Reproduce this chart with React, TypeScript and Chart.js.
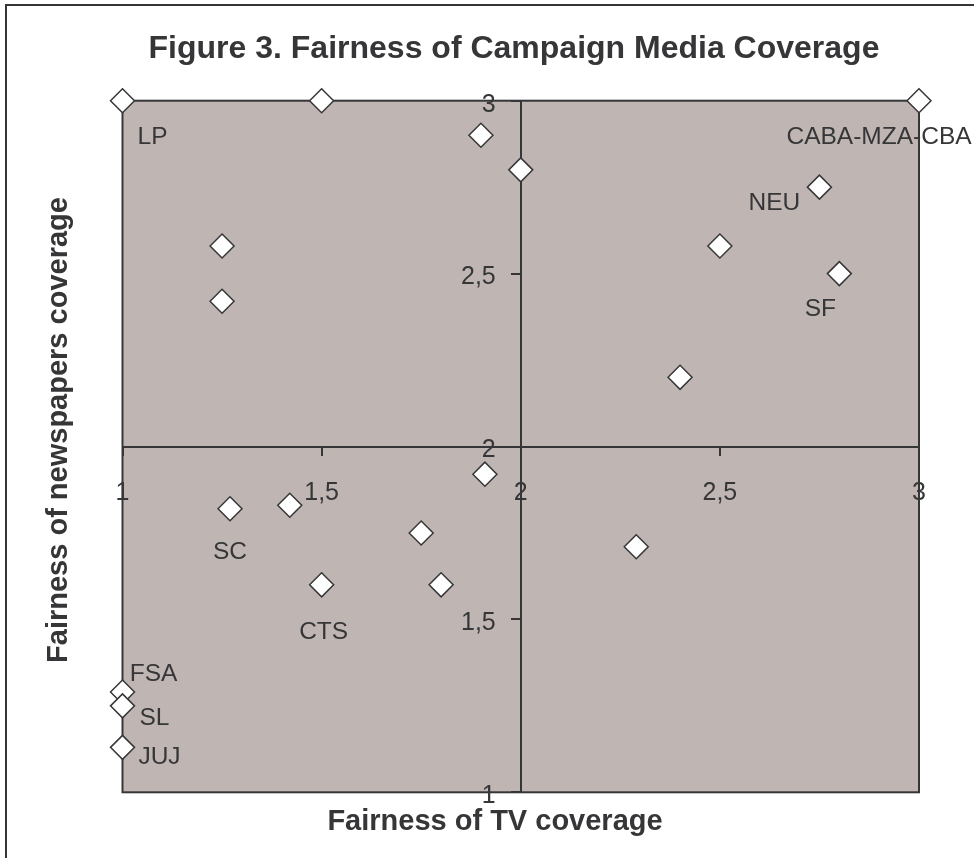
import React, { useEffect, useRef } from "react";
import { Chart, registerables } from "chart.js";

Chart.register(...registerables);

// ---- data ----
const tvCoverage = [1, 1.5, 1.9, 2.0, 1.25, 1.25, 3, 2.75, 2.5, 2.8, 2.4, 1.91, 1.27, 1.42, 1.75, 1.5, 1.8, 2.29, 1, 1, 1];
const newspaperCoverage = [3, 3, 2.9, 2.8, 2.58, 2.42, 3, 2.75, 2.58, 2.5, 2.2, 1.92, 1.82, 1.83, 1.75, 1.6, 1.6, 1.71, 1.29, 1.25, 1.13];
const pointLabels = ["LP", "", "", "", "", "", "CABA-MZA-CBA", "NEU", "", "SF", "", "", "SC", "", "", "CTS", "", "", "FSA", "SL", "JUJ"];
const xTickValues = [1, 1.5, 2, 2.5, 3];
const yTickValues = [1, 1.5, 2, 2.5, 3];
const chartTitle = "Figure 3. Fairness of Campaign Media Coverage";
const xAxisTitle = "Fairness of TV coverage";
const yAxisTitle = "Fairness of newspapers coverage";

// label placement relative to its point (px)
const labelOffsets: Record<string, [number, number]> = {
  LP: [30, 37],
  "CABA-MZA-CBA": [-40, 37],
  NEU: [-45, 16],
  SF: [-19, 36],
  SC: [0, 44],
  CTS: [2, 47],
  FSA: [31, -18],
  SL: [32, 12],
  JUJ: [37, 10],
};

const FONT = "'Liberation Sans', Arial, Helvetica, sans-serif";
const INK = "#363638";
const PLOT_BG = "#BFB6B3";

const fmt = (v: number) => String(v).replace(".", ",");

const decorPlugin = {
  id: "decor",
  beforeDraw(chart: any) {
    const { ctx, chartArea: a } = chart;
    ctx.save();
    ctx.fillStyle = "#ffffff";
    ctx.fillRect(0, 0, chart.width, chart.height);
    ctx.fillStyle = PLOT_BG;
    ctx.fillRect(a.left, a.top, a.right - a.left, a.bottom - a.top);
    // outer figure frame
    ctx.strokeStyle = INK;
    ctx.lineWidth = 2;
    ctx.strokeRect(6, 5, chart.width + 50, chart.height + 50);
    ctx.restore();
  },
  beforeDatasetsDraw(chart: any) {
    const { ctx, chartArea: a } = chart;
    ctx.save();
    ctx.strokeStyle = INK;
    ctx.lineWidth = 2;
    ctx.strokeRect(a.left, a.top, a.right - a.left, a.bottom - a.top);
    ctx.restore();
  },
  afterDatasetsDraw(chart: any) {
    const { ctx } = chart;
    const xs = chart.scales.x;
    const ys = chart.scales.y;
    ctx.save();
    ctx.fillStyle = INK;
    ctx.font = `24.5px ${FONT}`;
    ctx.textAlign = "center";
    ctx.textBaseline = "middle";
    pointLabels.forEach((lab, i) => {
      if (!lab) return;
      const off = labelOffsets[lab] || [0, 0];
      const px = xs.getPixelForValue(tvCoverage[i]);
      const py = ys.getPixelForValue(newspaperCoverage[i]);
      ctx.fillText(lab, px + off[0], py + off[1]);
    });
    ctx.restore();
  },
  afterDraw(chart: any) {
    const { ctx } = chart;
    ctx.save();
    ctx.fillStyle = INK;
    ctx.textAlign = "center";
    ctx.textBaseline = "middle";
    ctx.font = `bold 32px ${FONT}`;
    ctx.fillText(chartTitle, 514, 49);
    ctx.font = `bold 29px ${FONT}`;
    ctx.fillText(xAxisTitle, 495, 822);
    ctx.translate(59, 430);
    ctx.rotate(-Math.PI / 2);
    ctx.fillText(yAxisTitle, 0, 0);
    ctx.restore();
  },
};

export default function App() {
  const ref = useRef<HTMLCanvasElement | null>(null);

  useEffect(() => {
    document.body.style.margin = "0";
    const canvas = ref.current;
    if (!canvas) return;
    const data = tvCoverage.map((x, i) => ({ x, y: newspaperCoverage[i] }));
    const chart = new Chart(canvas, {
      type: "scatter",
      data: {
        datasets: [
          {
            label: "Provinces",
            data,
            pointStyle: "rectRot",
            pointRadius: 12,
            pointHoverRadius: 12,
            pointBackgroundColor: "#ffffff",
            pointBorderColor: INK,
            pointBorderWidth: 1.5,
            clip: false,
          } as any,
        ],
      },
      options: {
        responsive: false,
        animation: false,
        devicePixelRatio: 1,
        layout: { padding: { left: 122.5, right: 55, top: 100.7, bottom: 65.7 } },
        plugins: {
          legend: { display: false },
          title: { display: false },
          tooltip: { enabled: false },
        },
        scales: {
          x: {
            type: "linear",
            min: 1,
            max: 3,
            position: { y: 2 } as any,
            afterBuildTicks: (s: any) => {
              s.ticks = xTickValues.map((v) => ({ value: v }));
            },
            ticks: {
              callback: (v: any) => fmt(Number(v)),
              color: INK,
              font: { family: FONT, size: 25 },
              padding: 24,
              maxRotation: 0,
              autoSkip: false,
            },
            grid: { drawOnChartArea: false, drawTicks: true, tickLength: 8, color: INK, lineWidth: 2 },
            border: { display: true, color: INK, width: 2 },
          },
          y: {
            type: "linear",
            min: 1,
            max: 3,
            position: { x: 2 } as any,
            afterBuildTicks: (s: any) => {
              s.ticks = yTickValues.map((v) => ({ value: v }));
            },
            ticks: {
              callback: (v: any) => fmt(Number(v)) + "\u2002\u2002",
              color: INK,
              font: { family: FONT, size: 25 },
              padding: 15,
              labelOffset: 4,
              autoSkip: false,
            },
            grid: { drawOnChartArea: false, drawTicks: true, tickLength: 9, color: INK, lineWidth: 2 },
            border: { display: true, color: INK, width: 2 },
          },
        },
      },
      plugins: [decorPlugin],
    });
    return () => chart.destroy();
  }, []);

  return (
    <div style={{ position: "fixed", left: 0, top: 0, width: 974, height: 858 }}>
      <canvas ref={ref} width={974} height={858} style={{ width: 974, height: 858, display: "block" }} />
    </div>
  );
}
